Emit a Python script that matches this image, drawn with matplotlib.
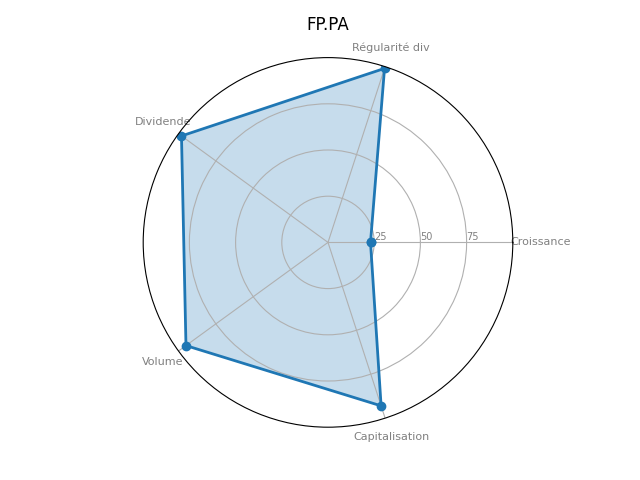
import numpy as np
import matplotlib
matplotlib.use('Agg')
import matplotlib.pyplot as plt
import matplotlib.transforms as mtransforms

# scores per critere
categories = ['Croissance', 'Régularité div', 'Dividende', 'Volume', 'Capitalisation']
values = [23, 99, 98, 95, 93]
ticker = 'FP.PA'

N = len(categories)
angles = [n / float(N) * 2 * np.pi for n in range(N)]
angles += angles[:1]
vals = values + values[:1]

fig = plt.figure(figsize=(6.4, 4.8), dpi=100)
ax = plt.subplot(111, polar=True)

plt.xticks(angles[:-1], categories, color='grey', size=8)
ax.set_rlabel_position(0)
plt.yticks([25, 50, 75], ["25", "50", "75"], color="grey", size=7)
plt.ylim(0, 100)

# nudge the right hand label a bit outwards
lab = ax.get_xticklabels()[0]
lab.set_transform(lab.get_transform() + mtransforms.ScaledTranslation(8 / 100, 0, fig.dpi_scale_trans))

ax.plot(angles, vals, linewidth=2, linestyle='solid', marker='o')
ax.fill(angles, vals, 'C0', alpha=0.25)
plt.title(ticker, y=1.075, pad=0)

plt.savefig('out.png')
